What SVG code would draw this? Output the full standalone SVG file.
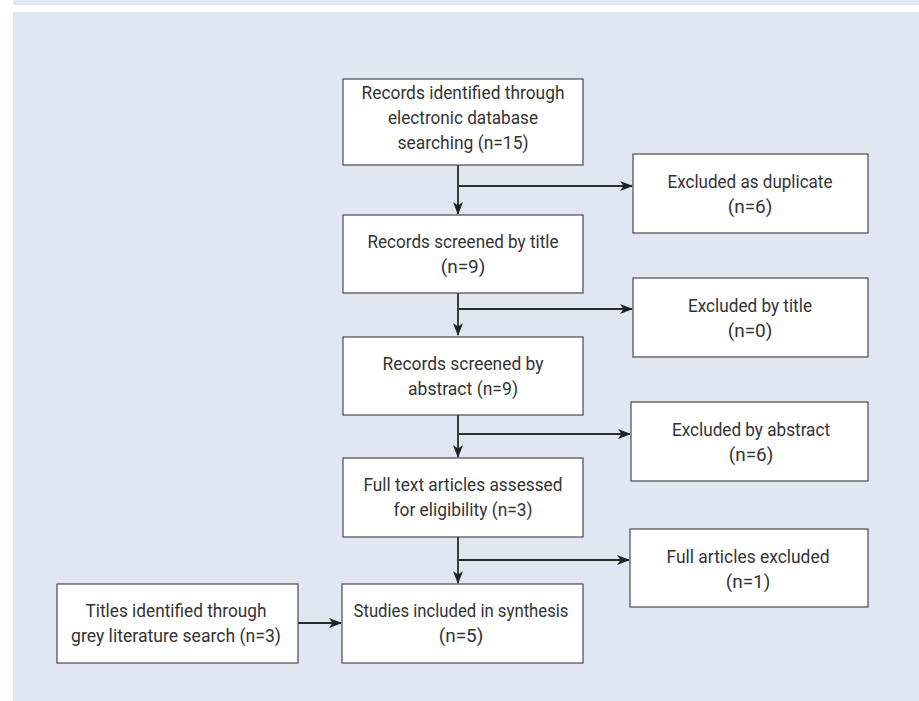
<svg xmlns="http://www.w3.org/2000/svg" width="919" height="701" viewBox="0 0 919 701">
<style>
.box{fill:#ffffff;stroke:#4a4a4a;stroke-width:1.2}
.t{font-family:Roboto,"Liberation Sans",Arial,sans-serif;font-size:19px;fill:#333333;text-anchor:middle}
.c{fill:none;stroke:#2b2b2b;stroke-width:1.8}
</style>
<defs>
<marker id="ah" markerWidth="13" markerHeight="10" refX="12" refY="5" orient="auto" markerUnits="userSpaceOnUse">
<path d="M0,0 L13,5 L0,10 L3.5,5 Z" fill="#222222"/>
</marker>
</defs>
<rect x="0" y="0" width="919" height="701" fill="#ffffff"/>
<rect x="13" y="0" width="906" height="5" fill="#e0e6f2"/>
<rect x="13" y="12" width="906" height="689" fill="#e0e6f2"/>
<g id="connectors">
<path class="c" d="M458,165 V214" marker-end="url(#ah)"/>
<path class="c" d="M458,186 H632" marker-end="url(#ah)"/>
<path class="c" d="M458,293 V335" marker-end="url(#ah)"/>
<path class="c" d="M458,309 H632" marker-end="url(#ah)"/>
<path class="c" d="M458,415 V457" marker-end="url(#ah)"/>
<path class="c" d="M458,434 H630" marker-end="url(#ah)"/>
<path class="c" d="M458,537 V583" marker-end="url(#ah)"/>
<path class="c" d="M458,560 H629" marker-end="url(#ah)"/>
<path class="c" d="M298,623 H341" marker-end="url(#ah)"/>
</g>
<g id="n1"><rect class="box" x="343" y="79" width="240" height="86"/>
<text class="t" x="463" y="99" textLength="203" lengthAdjust="spacingAndGlyphs">Records identified through</text>
<text class="t" x="463" y="124" textLength="150" lengthAdjust="spacingAndGlyphs">electronic database</text>
<text class="t" x="463" y="149" textLength="131" lengthAdjust="spacingAndGlyphs">searching (n=15)</text></g>
<g id="n2"><rect class="box" x="633" y="154" width="235" height="79"/>
<text class="t" x="750" y="188" textLength="165" lengthAdjust="spacingAndGlyphs">Excluded as duplicate</text>
<text class="t" x="750" y="213">(n=6)</text></g>
<g id="n3"><rect class="box" x="343" y="215" width="240" height="78"/>
<text class="t" x="463" y="248" textLength="191" lengthAdjust="spacingAndGlyphs">Records screened by title</text>
<text class="t" x="463" y="273">(n=9)</text></g>
<g id="n4"><rect class="box" x="633" y="278" width="235" height="79"/>
<text class="t" x="750" y="312" textLength="124" lengthAdjust="spacingAndGlyphs">Excluded by title</text>
<text class="t" x="750" y="337">(n=0)</text></g>
<g id="n5"><rect class="box" x="343" y="337" width="240" height="78"/>
<text class="t" x="463" y="370" textLength="161" lengthAdjust="spacingAndGlyphs">Records screened by</text>
<text class="t" x="463" y="395" textLength="110" lengthAdjust="spacingAndGlyphs">abstract (n=9)</text></g>
<g id="n6"><rect class="box" x="631" y="402" width="237" height="79"/>
<text class="t" x="751" y="436" textLength="158" lengthAdjust="spacingAndGlyphs">Excluded by abstract</text>
<text class="t" x="751" y="461">(n=6)</text></g>
<g id="n7"><rect class="box" x="343" y="458" width="240" height="79"/>
<text class="t" x="463" y="491" textLength="199" lengthAdjust="spacingAndGlyphs">Full text articles assessed</text>
<text class="t" x="463" y="516" textLength="139" lengthAdjust="spacingAndGlyphs">for eligibility (n=3)</text></g>
<g id="n8"><rect class="box" x="630" y="529" width="238" height="78"/>
<text class="t" x="748" y="563" textLength="163" lengthAdjust="spacingAndGlyphs">Full articles excluded</text>
<text class="t" x="748" y="588">(n=1)</text></g>
<g id="n9"><rect class="box" x="57" y="584" width="241" height="79"/>
<text class="t" x="176" y="617" textLength="181" lengthAdjust="spacingAndGlyphs">Titles identified through</text>
<text class="t" x="176" y="642" textLength="210" lengthAdjust="spacingAndGlyphs">grey literature search (n=3)</text></g>
<g id="n10"><rect class="box" x="342" y="584" width="241" height="79"/>
<text class="t" x="461" y="617" textLength="215" lengthAdjust="spacingAndGlyphs">Studies included in synthesis</text>
<text class="t" x="461" y="642">(n=5)</text></g>
</svg>
